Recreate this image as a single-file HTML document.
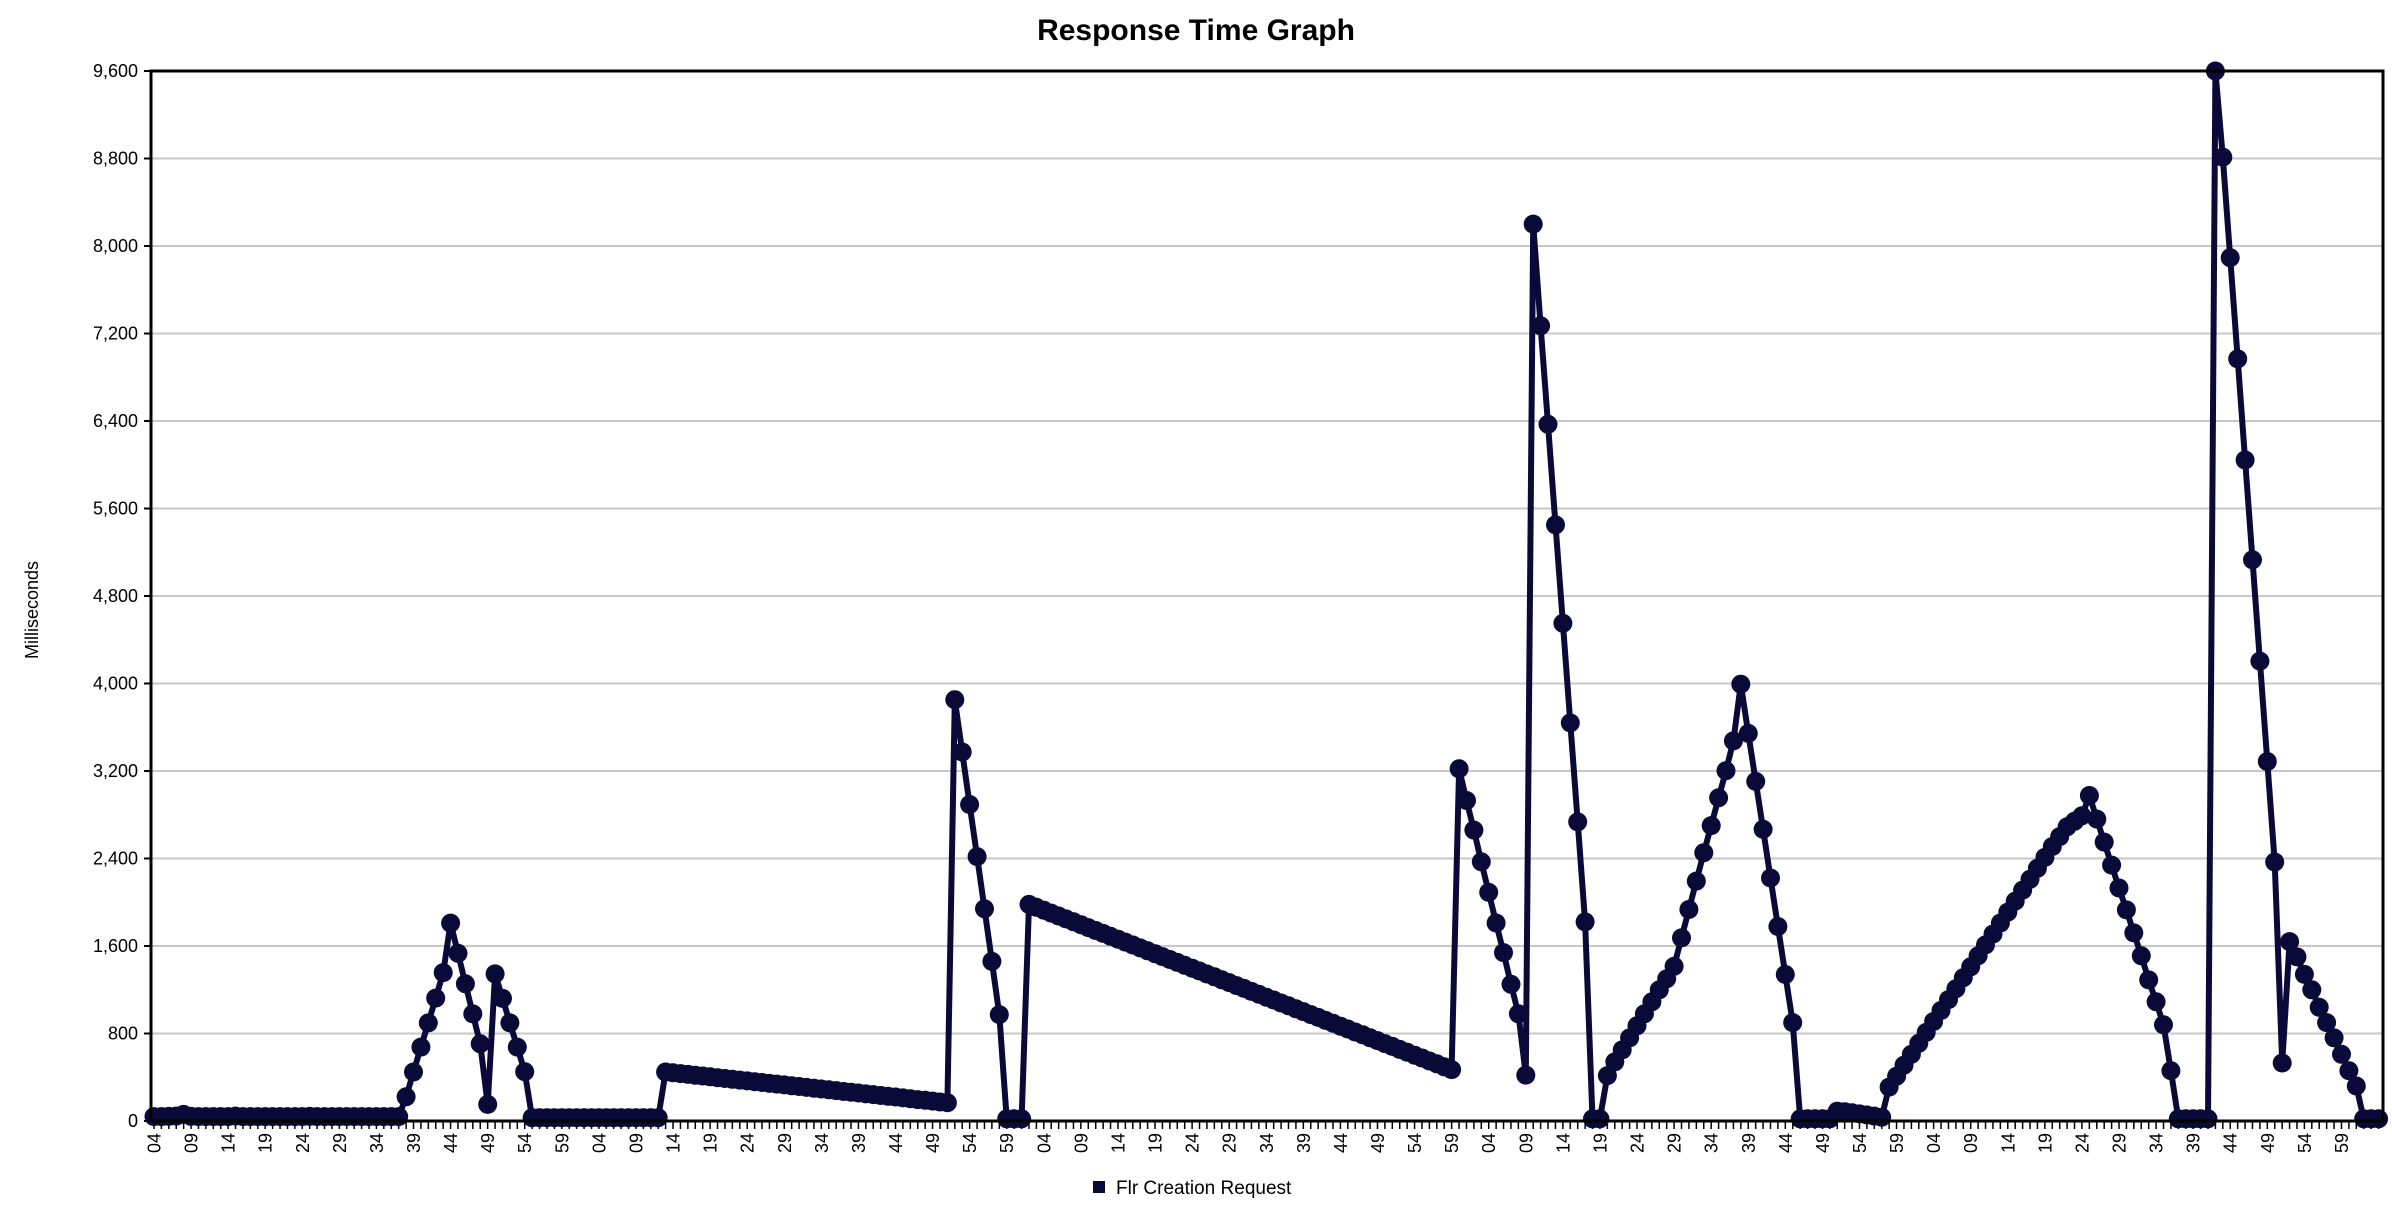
<!DOCTYPE html>
<html>
<head>
<meta charset="utf-8">
<style>
  html, body { margin: 0; padding: 0; background: #fff; }
  svg { display: block; }
  text { font-family: "Liberation Sans", sans-serif; fill: #000; }
</style>
</head>
<body>
<svg id="chart" width="2392" height="1222" viewBox="0 0 2392 1222" xmlns="http://www.w3.org/2000/svg">
  <rect x="0" y="0" width="2392" height="1222" fill="#fff"/>
  <text x="1196" y="40" text-anchor="middle" font-size="30" font-weight="bold">Response Time Graph</text>
  <text transform="translate(38,610) rotate(-90)" text-anchor="middle" font-size="18">Milliseconds</text>
  <g id="grid"></g>
  <g id="yaxis"></g>
  <g id="xaxis"></g>
  <g id="series"></g>
  <rect x="151" y="71" width="2232" height="1050" fill="none" stroke="#000" stroke-width="3"/>
  <g>
    <rect x="1093" y="1181" width="12" height="12" fill="#0a0a38"/>
    <text x="1116" y="1194" font-size="19">Flr Creation Request</text>
  </g>
</svg>
<script>
// ---- data ----
const startMinute = 4;
const categoryCount = 301;
const yTicks = [0, 800, 1600, 2400, 3200, 4000, 4800, 5600, 6400, 7200, 8000, 8800, 9600];
const yTickLabels = ["0","800","1,600","2,400","3,200","4,000","4,800","5,600","6,400","7,200","8,000","8,800","9,600"];
const values = [
  40,40,42,45,60,42,40,40,40,40,
  40,45,40,40,40,40,40,40,40,40,
  40,42,40,40,40,40,40,40,40,40,
  40,40,40,40,
  221,448,676,897,1124,1357,1809,1533,1254,979,706,152,1345,1121,897,676,451,
  30,30,30,30,30,30,30,30,30,30,30,30,30,30,30,30,30,30,
  448,441,433,426,418,411,404,396,389,381,374,367,359,352,344,337,330,322,315,307,
  300,293,285,278,270,263,256,248,241,233,226,219,211,204,196,189,182,174,167,
  3852,3374,2894,2417,1940,1459,973,
  20,20,20,
  1980,1954,1927,1901,1874,1848,1821,1795,1768,1742,
  1715,1689,1662,1636,1609,1583,1556,1530,1503,1477,
  1450,1424,1397,1371,1344,1318,1291,1265,1238,1212,
  1185,1159,1132,1106,1079,1053,1026,1000,973,947,
  920,894,867,841,814,788,761,735,708,682,
  655,629,602,576,549,523,496,470,
  3220,2930,2660,2370,2090,1810,1540,1250,980,420,
  8200,7270,6370,5450,4550,3640,2735,1820,
  20,20,
  415,540,650,760,870,980,1090,1200,1300,1414,1674,1934,2193,2453,2701,2955,3203,3475,
  3994,3544,3105,2667,2222,1778,1339,900,
  20,20,20,20,20,
  90,85,75,65,55,45,35,
  310,410,510,610,710,810,910,1010,1110,1210,
  1310,1410,1510,1610,1710,1810,1910,2010,2110,2210,
  2310,2410,2510,2600,2690,2740,2790,2976,
  2760,2550,2340,2130,1930,1720,1510,1290,1090,880,460,
  20,20,20,20,20,
  9600,8812,7893,6968,6043,5131,4205,3287,2368,530,
  1640,1500,1340,1200,1040,900,760,610,460,320,
  20,20,20
];
const categories = [];
for (let i = 0; i < categoryCount; i++) {
  const m = (startMinute + i) % 60;
  categories.push((m < 10 ? "0" : "") + m);
}

// ---- layout ----
const NS = "http://www.w3.org/2000/svg";
const plotL = 151, plotR = 2383, plotT = 71, plotB = 1121;
const yMax = 9600;
const step = (plotR - plotL) / categories.length;
function xScale(i) { return plotL + (i + 0.4) * step; }
function yScale(v) { return plotB - (Math.min(v, yMax) / yMax) * (plotB - plotT); }
function mk(tag, attrs) {
  const e = document.createElementNS(NS, tag);
  for (const k in attrs) e.setAttribute(k, attrs[k]);
  return e;
}

const grid = document.getElementById("grid");
const yaxis = document.getElementById("yaxis");
yTicks.forEach((t, k) => {
  const y = yScale(t);
  if (t > 0 && t < yMax) {
    const g = mk("line", { x1: plotL, x2: plotR, y1: y, y2: y, stroke: "#c8c8c8", "stroke-width": 2 });
    
    
    grid.appendChild(g);
  }
  const tk = mk("line", { x1: plotL - 7, x2: plotL, y1: y, y2: y, stroke: "#000", "stroke-width": 2 });
  
  
  yaxis.appendChild(tk);
  const lb = mk("text", { x: plotL - 13, y: y + 6, "text-anchor": "end", "font-size": 18 });
  lb.textContent = yTickLabels[k];
  
  
  yaxis.appendChild(lb);
});

const xaxis = document.getElementById("xaxis");
categories.forEach((c, i) => {
  const x = xScale(i);
  const tk = mk("line", { x1: x, x2: x, y1: plotB + 1, y2: plotB + 8, stroke: "#000", "stroke-width": 1.5 });
  
  
  xaxis.appendChild(tk);
  if (i % 5 === 0 && i < categories.length - 3) {
    const lb = mk("text", { transform: "translate(" + (x + 6.5) + "," + (plotB + 12) + ") rotate(-90)", "text-anchor": "end", "font-size": 18 });
    lb.textContent = c;
    
    
    xaxis.appendChild(lb);
  }
});

const series = document.getElementById("series");
let d = "";
values.forEach((v, i) => { d += (i ? "L" : "M") + xScale(i).toFixed(1) + "," + yScale(v).toFixed(1); });
const path = mk("path", { d: d, fill: "none", stroke: "#0a0a38", "stroke-width": 6, "stroke-linejoin": "round" });


series.appendChild(path);
values.forEach((v, i) => {
  const c = mk("circle", { cx: xScale(i).toFixed(1), cy: yScale(v).toFixed(1), r: 9.5, fill: "#0a0a38" });
  
  
  series.appendChild(c);
});
</script>
</body>
</html>
